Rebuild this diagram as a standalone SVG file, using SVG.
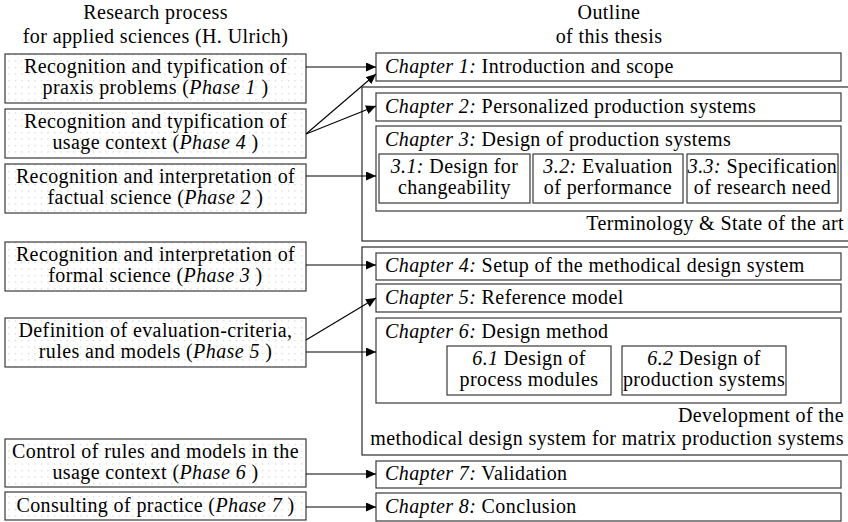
<svg xmlns="http://www.w3.org/2000/svg" width="848" height="522" viewBox="0 0 848 522" font-family="Liberation Serif, serif">
  <defs>
    <pattern id="dots" width="6.5" height="6.5" patternUnits="userSpaceOnUse">
      <rect width="6.5" height="6.5" fill="#fff"/>
      <rect x="2" y="2" width="1.1" height="1.1" fill="#c4c4c4"/>
    </pattern>
    <marker id="tip" markerUnits="userSpaceOnUse" markerWidth="11" markerHeight="10" refX="10" refY="4.5" orient="auto">
      <path d="M0,0 L10,4.5 L0,9 z" fill="#000"/>
    </marker>
  </defs>

  <rect width="848" height="522" fill="#fff"/>

  <!-- column headings -->
  <g id="heading-left">
    <text style="font-family:'Liberation Serif',serif !important" font-size="20" letter-spacing="0.4" text-anchor="middle" x="155.5" y="19">Research process</text>
    <text style="font-family:'Liberation Serif',serif !important" font-size="20" letter-spacing="0.4" text-anchor="middle" x="155.5" y="43">for applied sciences (H. Ulrich)</text>
  </g>
  <g id="heading-right">
    <text style="font-family:'Liberation Serif',serif !important" font-size="20" letter-spacing="0.4" text-anchor="middle" x="609" y="19">Outline</text>
    <text style="font-family:'Liberation Serif',serif !important" font-size="20" letter-spacing="0.4" text-anchor="middle" x="609" y="43">of this thesis</text>
  </g>

  <!-- chapter groups -->
  <g id="group-state-of-the-art">
    <rect x="362" y="87" width="500" height="154" fill="none" stroke="#2a2a2a" stroke-width="1.2"/>
    <text style="font-family:'Liberation Serif',serif !important" font-size="20" letter-spacing="0.4" text-anchor="end" x="844" y="230">Terminology &amp; State of the art</text>
  </g>
  <g id="group-development">
    <rect x="362" y="247" width="500" height="208" fill="none" stroke="#2a2a2a" stroke-width="1.2"/>
    <text style="font-family:'Liberation Serif',serif !important" font-size="20" letter-spacing="0.4" text-anchor="end" x="844" y="422">Development of the</text>
    <text style="font-family:'Liberation Serif',serif !important" font-size="20" letter-spacing="0.4" text-anchor="end" x="844" y="445">methodical design system for matrix production systems</text>
  </g>

  <!-- research phases -->
  <g id="phase1">
    <rect x="5" y="54" width="301" height="49" fill="url(#dots)" stroke="#3a3a3a" stroke-width="1.2"/>
    <text style="font-family:'Liberation Serif',serif !important" font-size="20" letter-spacing="0.4" text-anchor="middle" x="155.5" y="73">Recognition and typification of</text>
    <text style="font-family:'Liberation Serif',serif !important" font-size="20" letter-spacing="0.4" text-anchor="middle" x="155.5" y="94">praxis problems (<tspan style="font-family:'Liberation Serif',serif !important" font-style="italic">Phase 1</tspan> )</text>
  </g>
  <g id="phase4">
    <rect x="5" y="109" width="301" height="49" fill="url(#dots)" stroke="#3a3a3a" stroke-width="1.2"/>
    <text style="font-family:'Liberation Serif',serif !important" font-size="20" letter-spacing="0.4" text-anchor="middle" x="155.5" y="128">Recognition and typification of</text>
    <text style="font-family:'Liberation Serif',serif !important" font-size="20" letter-spacing="0.4" text-anchor="middle" x="155.5" y="149">usage context (<tspan style="font-family:'Liberation Serif',serif !important" font-style="italic">Phase 4</tspan> )</text>
  </g>
  <g id="phase2">
    <rect x="5" y="164" width="301" height="49" fill="url(#dots)" stroke="#3a3a3a" stroke-width="1.2"/>
    <text style="font-family:'Liberation Serif',serif !important" font-size="20" letter-spacing="0.4" text-anchor="middle" x="155.5" y="183">Recognition and interpretation of</text>
    <text style="font-family:'Liberation Serif',serif !important" font-size="20" letter-spacing="0.4" text-anchor="middle" x="155.5" y="204">factual science (<tspan style="font-family:'Liberation Serif',serif !important" font-style="italic">Phase 2</tspan> )</text>
  </g>
  <g id="phase3">
    <rect x="5" y="242" width="301" height="49" fill="url(#dots)" stroke="#3a3a3a" stroke-width="1.2"/>
    <text style="font-family:'Liberation Serif',serif !important" font-size="20" letter-spacing="0.4" text-anchor="middle" x="155.5" y="261">Recognition and interpretation of</text>
    <text style="font-family:'Liberation Serif',serif !important" font-size="20" letter-spacing="0.4" text-anchor="middle" x="155.5" y="282">formal science (<tspan style="font-family:'Liberation Serif',serif !important" font-style="italic">Phase 3</tspan> )</text>
  </g>
  <g id="phase5">
    <rect x="5" y="318" width="301" height="49" fill="url(#dots)" stroke="#3a3a3a" stroke-width="1.2"/>
    <text style="font-family:'Liberation Serif',serif !important" font-size="20" letter-spacing="0.4" text-anchor="middle" x="155.5" y="337">Definition of evaluation-criteria,</text>
    <text style="font-family:'Liberation Serif',serif !important" font-size="20" letter-spacing="0.4" text-anchor="middle" x="155.5" y="358">rules and models (<tspan style="font-family:'Liberation Serif',serif !important" font-style="italic">Phase 5</tspan> )</text>
  </g>
  <g id="phase6">
    <rect x="5" y="439" width="301" height="48" fill="url(#dots)" stroke="#3a3a3a" stroke-width="1.2"/>
    <text style="font-family:'Liberation Serif',serif !important" font-size="20" letter-spacing="0.4" text-anchor="middle" x="155.5" y="458">Control of rules and models in the</text>
    <text style="font-family:'Liberation Serif',serif !important" font-size="20" letter-spacing="0.4" text-anchor="middle" x="155.5" y="479">usage context (<tspan style="font-family:'Liberation Serif',serif !important" font-style="italic">Phase 6</tspan> )</text>
  </g>
  <g id="phase7">
    <rect x="5" y="492" width="301" height="28" fill="url(#dots)" stroke="#3a3a3a" stroke-width="1.2"/>
    <text style="font-family:'Liberation Serif',serif !important" font-size="20" letter-spacing="0.4" text-anchor="middle" x="155.5" y="512">Consulting of practice (<tspan style="font-family:'Liberation Serif',serif !important" font-style="italic">Phase 7</tspan> )</text>
  </g>

  <!-- chapters -->
  <g id="chapter1">
    <rect x="376" y="53" width="465" height="28" fill="#fff" stroke="#3a3a3a" stroke-width="1.2"/>
    <text style="font-family:'Liberation Serif',serif !important" font-size="20" letter-spacing="0.4" x="385" y="73"><tspan style="font-family:'Liberation Serif',serif !important" font-style="italic">Chapter 1:</tspan> Introduction and scope</text>
  </g>
  <g id="chapter2">
    <rect x="376" y="93" width="465" height="28" fill="#fff" stroke="#3a3a3a" stroke-width="1.2"/>
    <text style="font-family:'Liberation Serif',serif !important" font-size="20" letter-spacing="0.4" x="385" y="113"><tspan style="font-family:'Liberation Serif',serif !important" font-style="italic">Chapter 2:</tspan> Personalized production systems</text>
  </g>
  <g id="chapter3">
    <rect x="376" y="126" width="465" height="85" fill="#fff" stroke="#3a3a3a" stroke-width="1.2"/>
    <text style="font-family:'Liberation Serif',serif !important" font-size="20" letter-spacing="0.4" x="385" y="146"><tspan style="font-family:'Liberation Serif',serif !important" font-style="italic">Chapter 3:</tspan> Design of production systems</text>
  </g>
  <g id="section3-1">
    <rect x="379" y="154" width="151" height="49" fill="#fff" stroke="#3a3a3a" stroke-width="1.2"/>
    <text style="font-family:'Liberation Serif',serif !important" font-size="20" letter-spacing="0.4" text-anchor="middle" x="454.5" y="173"><tspan style="font-family:'Liberation Serif',serif !important" font-style="italic">3.1:</tspan> Design for</text>
    <text style="font-family:'Liberation Serif',serif !important" font-size="20" letter-spacing="0.4" text-anchor="middle" x="454.5" y="194">changeability</text>
  </g>
  <g id="section3-2">
    <rect x="533" y="154" width="150" height="49" fill="#fff" stroke="#3a3a3a" stroke-width="1.2"/>
    <text style="font-family:'Liberation Serif',serif !important" font-size="20" letter-spacing="0.4" text-anchor="middle" x="608" y="173"><tspan style="font-family:'Liberation Serif',serif !important" font-style="italic">3.2:</tspan> Evaluation</text>
    <text style="font-family:'Liberation Serif',serif !important" font-size="20" letter-spacing="0.4" text-anchor="middle" x="608" y="194">of performance</text>
  </g>
  <g id="section3-3">
    <rect x="687" y="154" width="151" height="49" fill="#fff" stroke="#3a3a3a" stroke-width="1.2"/>
    <text style="font-family:'Liberation Serif',serif !important" font-size="20" letter-spacing="0.4" text-anchor="middle" x="762.5" y="173"><tspan style="font-family:'Liberation Serif',serif !important" font-style="italic">3.3:</tspan> Specification</text>
    <text style="font-family:'Liberation Serif',serif !important" font-size="20" letter-spacing="0.4" text-anchor="middle" x="762.5" y="194">of research need</text>
  </g>
  <g id="chapter4">
    <rect x="376" y="253" width="465" height="27" fill="#fff" stroke="#3a3a3a" stroke-width="1.2"/>
    <text style="font-family:'Liberation Serif',serif !important" font-size="20" letter-spacing="0.4" x="385" y="272"><tspan style="font-family:'Liberation Serif',serif !important" font-style="italic">Chapter 4:</tspan> Setup of the methodical design system</text>
  </g>
  <g id="chapter5">
    <rect x="376" y="284" width="465" height="28" fill="#fff" stroke="#3a3a3a" stroke-width="1.2"/>
    <text style="font-family:'Liberation Serif',serif !important" font-size="20" letter-spacing="0.4" x="385" y="304"><tspan style="font-family:'Liberation Serif',serif !important" font-style="italic">Chapter 5:</tspan> Reference model</text>
  </g>
  <g id="chapter6">
    <rect x="376" y="318" width="465" height="85" fill="#fff" stroke="#3a3a3a" stroke-width="1.2"/>
    <text style="font-family:'Liberation Serif',serif !important" font-size="20" letter-spacing="0.4" x="385" y="338"><tspan style="font-family:'Liberation Serif',serif !important" font-style="italic">Chapter 6:</tspan> Design method</text>
  </g>
  <g id="section6-1">
    <rect x="447" y="346" width="164" height="49" fill="#fff" stroke="#3a3a3a" stroke-width="1.2"/>
    <text style="font-family:'Liberation Serif',serif !important" font-size="20" letter-spacing="0.4" text-anchor="middle" x="529" y="365"><tspan style="font-family:'Liberation Serif',serif !important" font-style="italic">6.1</tspan> Design of</text>
    <text style="font-family:'Liberation Serif',serif !important" font-size="20" letter-spacing="0.4" text-anchor="middle" x="529" y="386">process modules</text>
  </g>
  <g id="section6-2">
    <rect x="622" y="346" width="164" height="49" fill="#fff" stroke="#3a3a3a" stroke-width="1.2"/>
    <text style="font-family:'Liberation Serif',serif !important" font-size="20" letter-spacing="0.4" text-anchor="middle" x="704" y="365"><tspan style="font-family:'Liberation Serif',serif !important" font-style="italic">6.2</tspan> Design of</text>
    <text style="font-family:'Liberation Serif',serif !important" font-size="20" letter-spacing="0.4" text-anchor="middle" x="704" y="386">production systems</text>
  </g>
  <g id="chapter7">
    <rect x="376" y="461" width="465" height="27" fill="#fff" stroke="#3a3a3a" stroke-width="1.2"/>
    <text style="font-family:'Liberation Serif',serif !important" font-size="20" letter-spacing="0.4" x="385" y="480"><tspan style="font-family:'Liberation Serif',serif !important" font-style="italic">Chapter 7:</tspan> Validation</text>
  </g>
  <g id="chapter8">
    <rect x="376" y="493" width="465" height="28" fill="#fff" stroke="#3a3a3a" stroke-width="1.2"/>
    <text style="font-family:'Liberation Serif',serif !important" font-size="20" letter-spacing="0.4" x="385" y="513"><tspan style="font-family:'Liberation Serif',serif !important" font-style="italic">Chapter 8:</tspan> Conclusion</text>
  </g>

  <!-- connectors from phases to chapters -->
  <g id="connectors" stroke="#000" stroke-width="1.1" fill="none" marker-end="url(#tip)">
    <line x1="306" y1="67" x2="376" y2="67"/>
    <line x1="306" y1="134" x2="376" y2="74"/>
    <line x1="306" y1="134" x2="376" y2="106"/>
    <line x1="306" y1="176" x2="376" y2="176"/>
    <line x1="306" y1="265" x2="376" y2="265"/>
    <line x1="306" y1="340" x2="376" y2="298"/>
    <line x1="306" y1="352" x2="376" y2="352"/>
    <line x1="306" y1="474" x2="376" y2="474"/>
    <line x1="306" y1="507" x2="376" y2="507"/>
  </g>
</svg>
